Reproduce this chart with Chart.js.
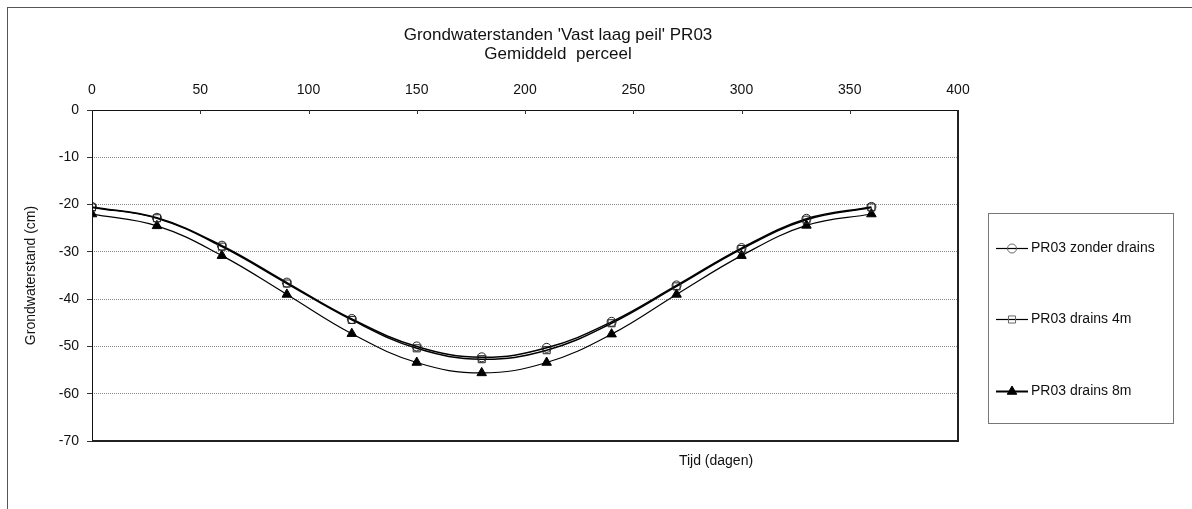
<!DOCTYPE html>
<html>
<head>
<meta charset="utf-8">
<script src="https://cdn.jsdelivr.net/npm/chart.js@4.4.1/dist/chart.umd.min.js"></script>
<style>
  html, body { margin: 0; padding: 0; background: #fff; overflow: hidden; }
  #wrap { width: 1192px; height: 509px; position: relative; }
</style>
</head>
<body>
<div id="wrap"><canvas id="c" width="1192" height="509"></canvas></div>
<script>
// Tijd in dagen
const days = [0, 30, 60, 90, 120, 150, 180, 210, 240, 270, 300, 330, 360];

// Grondwaterstand (cm) per variant
const zonderDrains = [-20.5, -22.8, -28.7, -36.5, -44.2, -50.0, -52.3, -50.3, -44.8, -37.1, -29.2, -23.0, -20.5];
const drains4m     = [-20.6, -22.9, -28.9, -36.7, -44.4, -50.4, -52.7, -50.8, -45.1, -37.3, -29.4, -23.2, -20.6];
const drains8m     = [-22.0, -24.5, -30.8, -39.0, -47.3, -53.4, -55.6, -53.4, -47.4, -39.0, -30.8, -24.4, -22.0];

const seriesNames = ['PR03 zonder drains', 'PR03 drains 4m', 'PR03 drains 8m'];
const titleLines = ["Grondwaterstanden 'Vast laag peil' PR03", 'Gemiddeld  perceel'];
const yTitle = 'Grondwaterstand (cm)';
const xTitle = 'Tijd (dagen)';

const FONT = '"Liberation Sans", Arial, sans-serif';
const INK = '#111';

function pts(values) {
  return days.map((d, i) => ({ x: d, y: values[i] }));
}

const datasets = [
  {
    label: seriesNames[0], data: pts(zonderDrains),
    borderColor: '#000', borderWidth: 1.5, backgroundColor: 'rgba(0,0,0,0)',
    pointStyle: 'circle', pointRadius: 4.5, pointBorderColor: '#222', pointBorderWidth: 1,
    pointBackgroundColor: 'rgba(0,0,0,0)', tension: 0.4
  },
  {
    label: seriesNames[1], data: pts(drains4m),
    borderColor: '#000', borderWidth: 1.5, backgroundColor: 'rgba(0,0,0,0)',
    pointStyle: 'rect', pointRadius: 5, pointBorderColor: '#222', pointBorderWidth: 1,
    pointBackgroundColor: 'rgba(0,0,0,0)', tension: 0.4
  },
  {
    label: seriesNames[2], data: pts(drains8m),
    borderColor: '#000', borderWidth: 1.2, backgroundColor: 'rgba(0,0,0,0)',
    pointStyle: 'triangle', pointRadius: 5.5, pointBorderColor: '#000', pointBorderWidth: 1,
    pointBackgroundColor: '#000', tension: 0.4
  }
];

// Frame, titles, inner tick marks and the boxed legend
const decorations = {
  id: 'decorations',
  afterDraw(chart) {
    const ctx = chart.ctx;
    const a = chart.chartArea;
    const xs = chart.scales.x;
    ctx.save();

    // outer chart border (top and left edges visible)
    ctx.strokeStyle = '#555';
    ctx.lineWidth = 1;
    ctx.strokeRect(7.5, 7.5, 1300, 600);

    // plot frame
    ctx.strokeStyle = '#111';
    ctx.lineWidth = 1;
    ctx.beginPath();
    ctx.moveTo(a.left + 0.5, a.bottom);
    ctx.lineTo(a.left + 0.5, a.top + 0.5);
    ctx.lineTo(a.right, a.top + 0.5);
    ctx.stroke();
    ctx.lineWidth = 2;
    ctx.strokeStyle = '#222';
    ctx.beginPath();
    ctx.moveTo(a.right, a.top);
    ctx.lineTo(a.right, a.bottom);
    ctx.lineTo(a.left, a.bottom);
    ctx.stroke();

    // x tick marks pointing into the plot
    ctx.lineWidth = 1;
    ctx.strokeStyle = '#333';
    xs.ticks.forEach(t => {
      const px = Math.round(xs.getPixelForValue(t.value)) + 0.5;
      if (px <= a.left + 1 || px >= a.right - 1) return;
      ctx.beginPath();
      ctx.moveTo(px, a.top);
      ctx.lineTo(px, a.top + 4);
      ctx.stroke();
    });

    // chart title
    ctx.fillStyle = INK;
    ctx.font = '17px ' + FONT;
    ctx.textAlign = 'center';
    ctx.textBaseline = 'middle';
    ctx.fillText(titleLines[0], 558, 35);
    ctx.fillText(titleLines[1], 558, 54);

    // x axis title
    ctx.font = '14px ' + FONT;
    ctx.fillText(xTitle, 716, 461);

    // legend
    const lx = 988, ly = 213, lw = 185, lh = 210;
    ctx.strokeStyle = '#777';
    ctx.lineWidth = 1;
    ctx.strokeRect(lx + 0.5, ly + 0.5, lw, lh);
    const rows = [248, 319, 391];
    chart.data.datasets.forEach((ds, i) => {
      const y = rows[i] + 0.5;
      ctx.strokeStyle = '#000';
      ctx.lineWidth = i === 2 ? 2 : 1.2;
      ctx.beginPath();
      ctx.moveTo(996, y);
      ctx.lineTo(1028, y);
      ctx.stroke();
      ctx.fillStyle = ds.pointBackgroundColor;
      ctx.strokeStyle = i === 2 ? '#000' : '#666';
      ctx.lineWidth = 1;
      Chart.helpers.drawPoint(ctx, {
        pointStyle: ds.pointStyle,
        radius: ds.pointRadius,
        borderWidth: 1,
        rotation: 0
      }, 1012, y);
      ctx.fillStyle = INK;
      ctx.font = '14px ' + FONT;
      ctx.textAlign = 'left';
      ctx.textBaseline = 'middle';
      ctx.fillText(ds.label, 1031, rows[i]);
    });

    ctx.restore();
  }
};

new Chart(document.getElementById('c'), {
  type: 'line',
  data: { datasets },
  plugins: [decorations],
  options: {
    responsive: false,
    animation: false,
    devicePixelRatio: 1,
    layout: { padding: { left: 0, top: 0, right: 234, bottom: 68 } },
    plugins: {
      legend: { display: false },
      title: { display: false },
      tooltip: { enabled: false }
    },
    scales: {
      x: {
        type: 'linear',
        position: 'top',
        min: 0, max: 400,
        ticks: {
          stepSize: 50, color: INK, padding: 11,
          font: { family: FONT, size: 14 }, maxRotation: 0
        },
        grid: { display: false, drawTicks: false },
        border: { display: false },
        afterFit(scale) { scale.height = 110; }
      },
      y: {
        type: 'linear',
        min: -70, max: 0,
        ticks: {
          stepSize: 10, color: INK, padding: 8,
          font: { family: FONT, size: 14 }
        },
        grid: {
          color: '#8a8a8a', lineWidth: 1,
          drawTicks: true, tickLength: 5, tickColor: '#333', tickBorderDash: []
        },
        border: { display: false, dash: [1, 1] },
        title: {
          display: true, text: yTitle, color: INK,
          font: { family: FONT, size: 14 }, padding: { top: 23, bottom: 0 }
        },
        afterFit(scale) { scale.width = 92; }
      }
    }
  }
});
</script>
</body>
</html>
